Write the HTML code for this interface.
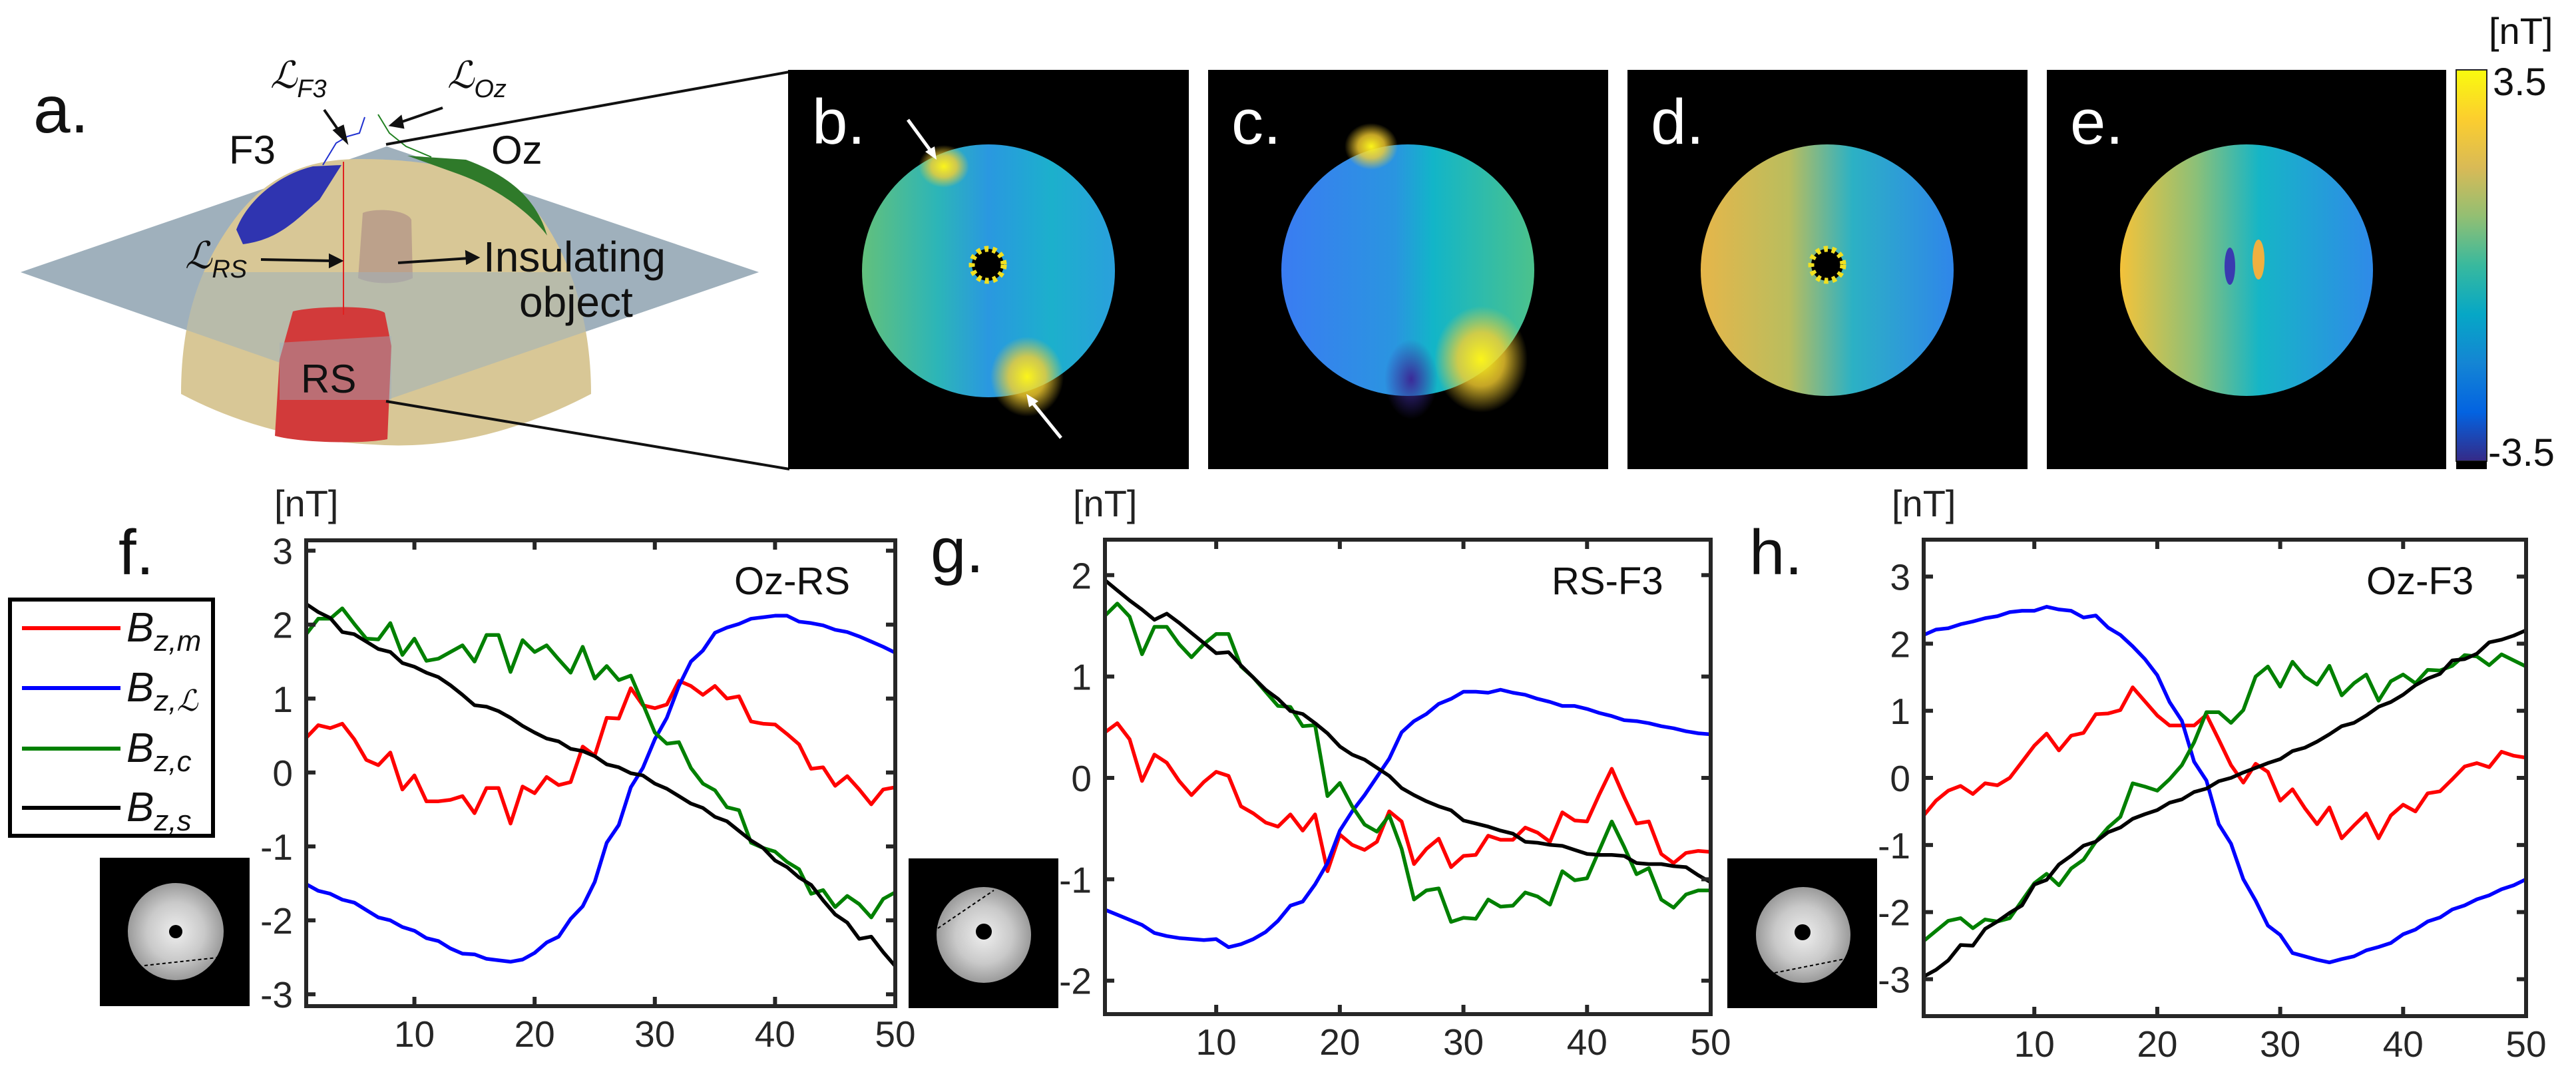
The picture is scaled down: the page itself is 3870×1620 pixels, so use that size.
<!DOCTYPE html>
<html><head><meta charset="utf-8"><style>
html,body{margin:0;padding:0;background:#fff;}
svg{display:block;}
text{font-family:"Liberation Sans",sans-serif;}
</style></head><body>
<svg id="fig" width="3870" height="1620" viewBox="0 0 3870 1620" xmlns="http://www.w3.org/2000/svg">
<defs>
<linearGradient id="parula" x1="0" y1="1" x2="0" y2="0">
<stop offset="0" stop-color="#352a87"/><stop offset="0.125" stop-color="#0363e1"/><stop offset="0.25" stop-color="#1485d4"/><stop offset="0.375" stop-color="#06a7c6"/><stop offset="0.5" stop-color="#38b99e"/><stop offset="0.625" stop-color="#92bf73"/><stop offset="0.75" stop-color="#d9ba56"/><stop offset="0.875" stop-color="#fcce2e"/><stop offset="1" stop-color="#f9fb0e"/>
</linearGradient>
<linearGradient id="gb" x1="0" y1="0" x2="1" y2="0"><stop offset="0" stop-color="#62c07c"/><stop offset="0.3" stop-color="#2cb5b8"/><stop offset="0.5" stop-color="#2a98e0"/><stop offset="0.75" stop-color="#1cb0cc"/><stop offset="1" stop-color="#2aa0dc"/></linearGradient>
<linearGradient id="gc" x1="0" y1="0" x2="1" y2="0"><stop offset="0" stop-color="#3a7cf2"/><stop offset="0.45" stop-color="#2a95e0"/><stop offset="0.6" stop-color="#12b5c8"/><stop offset="1" stop-color="#4cc28c"/></linearGradient>
<linearGradient id="gd" x1="0" y1="0" x2="1" y2="0"><stop offset="0" stop-color="#e6b64a"/><stop offset="0.35" stop-color="#b9bd5e"/><stop offset="0.6" stop-color="#2cb1c4"/><stop offset="1" stop-color="#2f86ea"/></linearGradient>
<linearGradient id="ge" x1="0" y1="0" x2="1" y2="0"><stop offset="0" stop-color="#f4c23a"/><stop offset="0.3" stop-color="#8cc078"/><stop offset="0.55" stop-color="#16b5c6"/><stop offset="1" stop-color="#2f8ae8"/></linearGradient>
<radialGradient id="yspot"><stop offset="0" stop-color="#fbf51a"/><stop offset="0.5" stop-color="#f8d030" stop-opacity="0.8"/><stop offset="1" stop-color="#f8d030" stop-opacity="0"/></radialGradient>
<radialGradient id="bspot"><stop offset="0" stop-color="#3b2a98"/><stop offset="1" stop-color="#3b2a98" stop-opacity="0"/></radialGradient>
<radialGradient id="gray"><stop offset="0" stop-color="#eeeeee"/><stop offset="0.6" stop-color="#c9c9c9"/><stop offset="1" stop-color="#9a9a9a"/></radialGradient>
</defs>

<!-- Panel a -->
<g>
<text x="50" y="199" font-size="100" fill="#111">a.</text>
<polygon points="31,409 581,220 1140,409 581,601" fill="#9fb0bc"/>
<path d="M272 592 C272 480 300 400 352 330 C400 265 460 239 540 239 C620 239 740 250 800 310 C850 370 888 470 888 592 Q720 680 560 668 Q400 660 272 592 Z" fill="#d8c796"/>
<path d="M513 248 L470 250 C420 262 372 300 355 345 L365 367 C420 360 445 330 480 300 Z" fill="#2f34b0"/>
<path d="M612 234 L700 240 C760 262 805 295 822 354 C795 318 745 282 690 262 Z" fill="#2f7a2a"/>
<path d="M545 320 C565 312 610 315 618 330 L620 418 C600 428 560 428 538 418 Z" fill="#b79a8a" opacity="0.85"/>
<polygon points="31,409 1140,409 581,601" fill="#9fb0bc" opacity="0.55"/>
<path d="M440 468 C470 460 560 458 578 470 L588 520 L582 660 C540 668 450 665 413 655 L420 540 Z" fill="#d23a3a"/>
<polygon points="420,515 588,505 588,601 420,601" fill="#9fb0bc" opacity="0.45"/>
<line x1="516" y1="243" x2="516" y2="473" stroke="#e02020" stroke-width="2"/>
<polyline points="485,248 505,215 522,205 540,200 548,176" fill="none" stroke="#2030d0" stroke-width="2"/>
<polyline points="568,172 585,200 610,220 648,236" fill="none" stroke="#208020" stroke-width="2"/>
<g font-size="60" fill="#111">
<text x="344" y="246">F3</text>
<text x="738" y="246">Oz</text>
<text x="726" y="408" font-size="64">Insulating</text>
<text x="780" y="476" font-size="64">object</text>
<text x="452" y="590">RS</text>
</g>
<g font-family="Liberation Serif,serif" font-style="italic" fill="#111">
<text x="406" y="132" font-size="56">ℒ<tspan font-size="38" dy="14">F3</tspan></text>
<text x="672" y="132" font-size="56">ℒ<tspan font-size="38" dy="14">Oz</tspan></text>
<text x="278" y="403" font-size="56">ℒ<tspan font-size="38" dy="14">RS</tspan></text>
</g>
<g stroke="#111" stroke-width="4" fill="#111">
<line x1="487" y1="165" x2="515" y2="205"/><polygon points="520,212 503,196 515,190"/>
<line x1="665" y1="162" x2="598" y2="185"/><polygon points="588,188 602,176 605,191"/>
<line x1="392" y1="390" x2="500" y2="392"/><polygon points="512,392 496,384 496,400"/>
<line x1="598" y1="395" x2="705" y2="388"/><polygon points="717,387 701,379 702,395"/>
</g>
<line x1="580" y1="217" x2="1186" y2="108" stroke="#111" stroke-width="4"/>
<line x1="580" y1="603" x2="1186" y2="705" stroke="#111" stroke-width="4"/>
</g>

<!-- Panels b-e -->
<g>
<rect x="1184" y="105" width="602" height="600" fill="#000"/>
<ellipse cx="1485" cy="407" rx="190" ry="190" fill="url(#gb)"/>
<ellipse cx="1418" cy="250" rx="38" ry="32" fill="url(#yspot)"/>
<ellipse cx="1543" cy="566" rx="55" ry="60" fill="url(#yspot)"/>
<circle cx="1484" cy="398" r="24" fill="#000" stroke="#f2e020" stroke-width="9" stroke-dasharray="6 6"/>
<line x1="1364" y1="180" x2="1402" y2="232" stroke="#fff" stroke-width="5"/><polygon points="1407,240 1390,228 1404,220" fill="#fff"/>
<line x1="1594" y1="658" x2="1547" y2="600" stroke="#fff" stroke-width="5"/><polygon points="1542,592 1560,603 1546,612" fill="#fff"/>
<text x="1220" y="216" font-size="96" fill="#fff">b.</text>
</g>
<g>
<rect x="1815" y="105" width="601" height="600" fill="#000"/>
<ellipse cx="2115" cy="406" rx="190" ry="189" fill="url(#gc)"/>
<ellipse cx="2225" cy="540" rx="70" ry="80" fill="url(#yspot)"/>
<ellipse cx="2060" cy="220" rx="40" ry="35" fill="url(#yspot)"/>
<ellipse cx="2120" cy="570" rx="40" ry="60" fill="url(#bspot)"/>
<text x="1850" y="216" font-size="96" fill="#fff">c.</text>
</g>
<g>
<rect x="2445" y="105" width="601" height="600" fill="#000"/>
<ellipse cx="2745" cy="406" rx="190" ry="189" fill="url(#gd)"/>
<circle cx="2745" cy="398" r="24" fill="#000" stroke="#f2e020" stroke-width="9" stroke-dasharray="6 6"/>
<text x="2480" y="216" font-size="96" fill="#fff">d.</text>
</g>
<g>
<rect x="3075" y="105" width="600" height="600" fill="#000"/>
<ellipse cx="3375" cy="406" rx="190" ry="189" fill="url(#ge)"/>
<ellipse cx="3350" cy="400" rx="8" ry="28" fill="#3a3ab0"/>
<ellipse cx="3393" cy="390" rx="9" ry="30" fill="#f0b040"/>
<text x="3110" y="216" font-size="96" fill="#fff">e.</text>
</g>
<g>
<rect x="3690" y="105" width="46" height="588" fill="url(#parula)" stroke="#222" stroke-width="2"/>
<rect x="3690" y="693" width="46" height="12" fill="#000"/>
<text x="3745" y="143" font-size="58" fill="#111">3.5</text>
<text x="3738" y="700" font-size="58" fill="#111">-3.5</text>
<text x="3739" y="66" font-size="56" fill="#111">[nT]</text>
</g>

<!-- legend -->
<g>
<rect x="15" y="901" width="305" height="355" fill="#fff" stroke="#000" stroke-width="6"/>
<g stroke-width="6">
<line x1="33" y1="944" x2="181" y2="944" stroke="#ff0000"/>
<line x1="33" y1="1034" x2="181" y2="1034" stroke="#0000ff"/>
<line x1="33" y1="1125" x2="181" y2="1125" stroke="#008000"/>
<line x1="33" y1="1214" x2="181" y2="1214" stroke="#000"/>
</g>
<g font-family="Liberation Serif,serif" font-style="italic" fill="#111" font-size="62">
<text x="190" y="964">B<tspan font-size="44" dy="14">z,m</tspan></text>
<text x="190" y="1054">B<tspan font-size="44" dy="14">z,ℒ</tspan></text>
<text x="190" y="1145">B<tspan font-size="44" dy="14">z,c</tspan></text>
<text x="190" y="1234">B<tspan font-size="44" dy="14">z,s</tspan></text>
</g>
</g>

<!-- insets -->
<g>
<rect x="150" y="1289" width="225" height="223" fill="#000"/>
<ellipse cx="264" cy="1400" rx="72" ry="73" fill="url(#gray)"/>
<circle cx="264" cy="1400" r="10" fill="#000"/>
<line x1="217" y1="1451" x2="327" y2="1439" stroke="#000" stroke-width="2" stroke-dasharray="5 4"/>
</g>
<g>
<rect x="1365" y="1290" width="225" height="225" fill="#000"/>
<ellipse cx="1478" cy="1405" rx="71" ry="72" fill="url(#gray)"/>
<circle cx="1478" cy="1400" r="12" fill="#000"/>
<line x1="1409" y1="1395" x2="1493" y2="1338" stroke="#000" stroke-width="2" stroke-dasharray="5 4"/>
</g>
<g>
<rect x="2595" y="1290" width="225" height="225" fill="#000"/>
<ellipse cx="2709" cy="1405" rx="71" ry="72" fill="url(#gray)"/>
<circle cx="2708" cy="1401" r="12" fill="#000"/>
<line x1="2666" y1="1462" x2="2772" y2="1441" stroke="#000" stroke-width="2" stroke-dasharray="5 4"/>
</g>

<g id="charts"></g>
</svg>
<script>
const xTicks = [10, 20, 30, 40, 50];
const fYTicks = [-3, -2, -1, 0, 1, 2, 3];
const gYTicks = [-2, -1, 0, 1, 2];
const hYTicks = [-3, -2, -1, 0, 1, 2, 3];

const fRed = [0.47,0.64,0.6,0.66,0.45,0.17,0.1,0.27,-0.23,-0.04,-0.39,-0.39,-0.37,-0.32,-0.55,-0.21,-0.21,-0.69,-0.19,-0.28,-0.06,-0.17,-0.13,0.35,0.23,0.74,0.73,1.14,0.91,0.87,0.92,1.24,1.17,1.05,1.17,1.0,1.03,0.69,0.66,0.65,0.52,0.38,0.05,0.07,-0.18,-0.05,-0.23,-0.43,-0.23,-0.2];
const fBlue = [-1.51,-1.6,-1.64,-1.72,-1.76,-1.86,-1.96,-2.0,-2.09,-2.14,-2.24,-2.28,-2.38,-2.45,-2.46,-2.52,-2.54,-2.56,-2.53,-2.44,-2.3,-2.22,-1.98,-1.81,-1.48,-0.95,-0.71,-0.2,0.06,0.45,0.74,1.17,1.5,1.65,1.89,1.96,2.01,2.08,2.1,2.12,2.12,2.04,2.02,1.99,1.93,1.9,1.84,1.77,1.7,1.62];
const fGreen = [1.87,2.08,2.08,2.22,2.01,1.81,1.8,2.02,1.59,1.81,1.51,1.54,1.63,1.72,1.5,1.86,1.86,1.36,1.79,1.63,1.72,1.53,1.35,1.7,1.27,1.44,1.25,1.31,0.93,0.54,0.39,0.41,0.06,-0.15,-0.24,-0.47,-0.51,-0.95,-1.02,-1.07,-1.21,-1.31,-1.64,-1.59,-1.82,-1.67,-1.78,-1.96,-1.71,-1.62];
const fBlack = [2.28,2.17,2.09,1.9,1.87,1.77,1.67,1.63,1.48,1.43,1.35,1.29,1.18,1.05,0.91,0.89,0.83,0.74,0.63,0.54,0.46,0.42,0.32,0.29,0.22,0.11,0.07,-0.01,-0.04,-0.15,-0.22,-0.32,-0.42,-0.48,-0.6,-0.66,-0.79,-0.92,-1.02,-1.19,-1.28,-1.42,-1.52,-1.73,-1.92,-2.03,-2.25,-2.22,-2.43,-2.62];

const gRed = [0.45,0.54,0.38,-0.03,0.23,0.15,-0.03,-0.17,-0.04,0.06,0.02,-0.28,-0.35,-0.44,-0.48,-0.36,-0.52,-0.36,-0.92,-0.56,-0.66,-0.71,-0.63,-0.33,-0.43,-0.85,-0.7,-0.6,-0.88,-0.77,-0.76,-0.57,-0.61,-0.61,-0.49,-0.54,-0.63,-0.34,-0.42,-0.43,-0.16,0.09,-0.19,-0.45,-0.43,-0.75,-0.84,-0.74,-0.72,-0.73];
const gBlue = [-1.3,-1.35,-1.4,-1.45,-1.53,-1.56,-1.58,-1.59,-1.6,-1.59,-1.67,-1.64,-1.59,-1.52,-1.41,-1.26,-1.22,-1.05,-0.84,-0.52,-0.33,-0.17,0.01,0.19,0.45,0.56,0.63,0.73,0.78,0.85,0.85,0.84,0.87,0.84,0.82,0.78,0.75,0.71,0.71,0.68,0.64,0.61,0.57,0.56,0.54,0.51,0.49,0.46,0.44,0.43];
const gGreen = [1.6,1.72,1.59,1.22,1.49,1.49,1.32,1.19,1.32,1.42,1.42,1.1,0.99,0.85,0.71,0.7,0.51,0.52,-0.18,-0.05,-0.28,-0.46,-0.53,-0.37,-0.7,-1.2,-1.11,-1.09,-1.42,-1.38,-1.39,-1.2,-1.27,-1.26,-1.13,-1.17,-1.25,-0.92,-1.01,-0.99,-0.71,-0.43,-0.68,-0.95,-0.89,-1.2,-1.28,-1.15,-1.11,-1.11];
const gBlack = [1.95,1.85,1.75,1.66,1.56,1.62,1.53,1.43,1.33,1.23,1.24,1.11,0.99,0.87,0.78,0.66,0.63,0.54,0.44,0.31,0.23,0.18,0.1,0.02,-0.1,-0.17,-0.23,-0.28,-0.32,-0.42,-0.45,-0.48,-0.52,-0.55,-0.63,-0.64,-0.66,-0.67,-0.71,-0.75,-0.76,-0.76,-0.77,-0.84,-0.85,-0.85,-0.87,-0.88,-0.96,-1.03];

const hRed = [-0.56,-0.34,-0.19,-0.12,-0.24,-0.08,-0.11,0,0.24,0.48,0.66,0.41,0.63,0.67,0.95,0.96,1.01,1.35,1.14,0.93,0.78,0.78,0.78,0.94,0.57,0.19,-0.07,0.21,0.09,-0.34,-0.17,-0.45,-0.69,-0.44,-0.9,-0.71,-0.53,-0.9,-0.56,-0.4,-0.5,-0.23,-0.2,-0.02,0.17,0.22,0.16,0.39,0.33,0.3];
const hBlue = [2.13,2.21,2.23,2.29,2.33,2.38,2.41,2.47,2.49,2.49,2.55,2.51,2.49,2.39,2.42,2.24,2.13,1.96,1.77,1.53,1.13,0.85,0.24,-0.04,-0.69,-0.98,-1.51,-1.83,-2.2,-2.34,-2.61,-2.66,-2.71,-2.75,-2.7,-2.66,-2.57,-2.52,-2.46,-2.33,-2.26,-2.14,-2.08,-1.96,-1.9,-1.81,-1.75,-1.66,-1.6,-1.51];
const hGreen = [-2.43,-2.28,-2.13,-2.09,-2.24,-2.11,-2.14,-2.09,-1.83,-1.57,-1.43,-1.6,-1.35,-1.22,-0.95,-0.74,-0.58,-0.08,-0.13,-0.19,-0.02,0.19,0.53,0.98,0.98,0.82,1.01,1.51,1.66,1.36,1.73,1.51,1.39,1.67,1.23,1.41,1.54,1.15,1.44,1.54,1.41,1.61,1.6,1.67,1.83,1.81,1.68,1.84,1.75,1.66];
const hBlack = [-2.96,-2.86,-2.72,-2.49,-2.5,-2.25,-2.14,-2.01,-1.9,-1.59,-1.52,-1.29,-1.16,-1.01,-0.95,-0.81,-0.74,-0.61,-0.54,-0.48,-0.37,-0.32,-0.21,-0.16,-0.05,0,0.08,0.15,0.22,0.28,0.4,0.45,0.54,0.65,0.77,0.82,0.93,1.06,1.13,1.24,1.38,1.48,1.55,1.75,1.77,1.85,2.02,2.06,2.12,2.2];

const NS = 'http://www.w3.org/2000/svg';
const root = document.getElementById('charts');
function mk(tag, attrs, parent) {
  const e = document.createElementNS(NS, tag);
  for (const k in attrs) e.setAttribute(k, attrs[k]);
  (parent || root).appendChild(e);
  return e;
}

function drawChart(id, box, ylim, yTicks, series, title, letter, labelBase) {
  const g = mk('g', {});
  
  
  const xS = v => box.l + (v - 1) / 49 * (box.r - box.l);
  const yS = v => box.b - (v - ylim[0]) / (ylim[1] - ylim[0]) * (box.b - box.t);
  const clip = mk('clipPath', {id: 'clip-' + id}, g);
  mk('rect', {x: box.l, y: box.t, width: box.r - box.l, height: box.b - box.t}, clip);
  const colors = ['#ff0000', '#0000ff', '#008000', '#000000'];
  const names = ['bzm', 'bzl', 'bzc', 'bzs'];
  series.forEach((arr, si) => {
    const pts = arr.map((v, i) => xS(i + 1).toFixed(1) + ',' + yS(v).toFixed(1)).join(' ');
    const pl = mk('polyline', {points: pts, fill: 'none', stroke: colors[si], 'stroke-width': 5.5, 'stroke-linejoin': 'round', 'clip-path': 'url(#clip-' + id + ')'}, g);
    
    
  });
  const frame = mk('rect', {x: box.l, y: box.t, width: box.r - box.l, height: box.b - box.t, fill: 'none', stroke: '#262626', 'stroke-width': 6}, g);
  
  
  xTicks.forEach(t => {
    const x = xS(t);
    mk('line', {x1: x, y1: box.b, x2: x, y2: box.b - 14, stroke: '#262626', 'stroke-width': 6}, g);
    mk('line', {x1: x, y1: box.t, x2: x, y2: box.t + 14, stroke: '#262626', 'stroke-width': 6}, g);
    const tl = mk('text', {x: x, y: labelBase, 'font-size': 55, fill: '#262626', 'text-anchor': 'middle'}, g);
    tl.textContent = t;
    
    
  });
  yTicks.forEach(t => {
    const y = yS(t);
    mk('line', {x1: box.l, y1: y, x2: box.l + 14, y2: y, stroke: '#262626', 'stroke-width': 6}, g);
    mk('line', {x1: box.r, y1: y, x2: box.r - 14, y2: y, stroke: '#262626', 'stroke-width': 6}, g);
    const tl = mk('text', {x: box.l - 20, y: y + 20, 'font-size': 55, fill: '#262626', 'text-anchor': 'end'}, g);
    tl.textContent = t;
    
    
  });
  const unit = mk('text', {x: box.l - 48, y: 776, 'font-size': 56, fill: '#222'}, g);
  unit.textContent = '[nT]';
  
  
  const tt = mk('text', {x: title.x, y: 893, 'font-size': 58, fill: '#111'}, g);
  tt.textContent = title.text;
  
  
  const lt = mk('text', {x: letter.x, y: letter.y, 'font-size': 96, fill: '#111'}, g);
  lt.textContent = letter.text;
  
  
}

drawChart('f', {l: 460, r: 1345, t: 812, b: 1512}, [-3.16, 3.14], fYTicks, [fRed, fBlue, fGreen, fBlack], {text: 'Oz-RS', x: 1103}, {text: 'f.', x: 178, y: 863}, 1573);
drawChart('g', {l: 1660, r: 2570, t: 811, b: 1524}, [-2.33, 2.35], gYTicks, [gRed, gBlue, gGreen, gBlack], {text: 'RS-F3', x: 2331}, {text: 'g.', x: 1398, y: 860}, 1585);
drawChart('h', {l: 2890, r: 3795, t: 811, b: 1527}, [-3.55, 3.55], hYTicks, [hRed, hBlue, hGreen, hBlack], {text: 'Oz-F3', x: 3555}, {text: 'h.', x: 2628, y: 863}, 1588);
</script>
</body></html>
